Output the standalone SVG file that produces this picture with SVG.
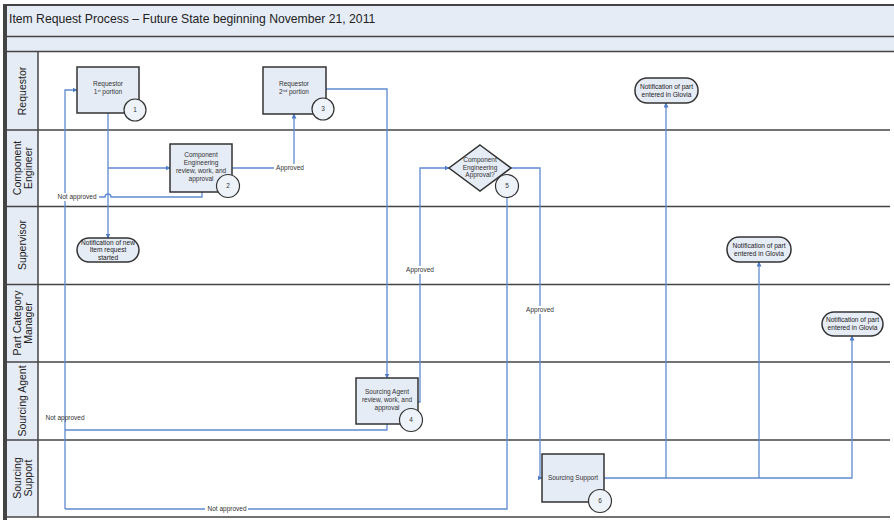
<svg xmlns="http://www.w3.org/2000/svg" width="894" height="524" viewBox="0 0 894 524">
<style>
.band{fill:#e6ecf6}
.sep{stroke:#444;stroke-width:1.5;fill:none}
.lane{font-family:"Liberation Sans",Arial,sans-serif;font-size:10.5px;fill:#222;text-anchor:middle}
.box{fill:#e6ecf6;stroke:#333;stroke-width:1.5}
.num{fill:#eef2f9;stroke:#333;stroke-width:1.2}
.t{font-family:"Liberation Sans",Arial,sans-serif;font-size:6.5px;fill:#333;text-anchor:middle}
.nt{font-family:"Liberation Sans",Arial,sans-serif;font-size:6.6px;fill:#222;text-anchor:middle}
.conn{stroke:#5f8ad0;stroke-width:1.3;fill:none}
.lbl{font-family:"Liberation Sans",Arial,sans-serif;font-size:6.5px;fill:#333;text-anchor:middle}
</style>
<defs>
<marker id="arr" viewBox="0 0 10 10" refX="9" refY="5" markerWidth="5" markerHeight="5" orient="auto" markerUnits="userSpaceOnUse">
<path d="M0,0 L10,5 L0,10 z" fill="#4f7cc4"/>
</marker>
</defs>
<rect x="0" y="0" width="894" height="524" fill="#ffffff"/>
<g id="frame">
<rect class="band" x="6" y="5" width="888" height="46"/>
<rect class="band" x="6" y="52" width="32" height="465"/>
<line x1="6" y1="5" x2="894" y2="5" stroke="#444" stroke-width="2"/>
<line x1="5" y1="4" x2="5" y2="520" stroke="#444" stroke-width="4"/>
<line class="sep" x1="7" y1="36.5" x2="894" y2="36.5"/>
<line class="sep" x1="7" y1="51.5" x2="894" y2="51.5"/>
<line class="sep" x1="38" y1="52" x2="38" y2="517"/>
<line class="sep" x1="7" y1="130" x2="890" y2="130"/>
<line class="sep" x1="7" y1="206.5" x2="890" y2="206.5"/>
<line class="sep" x1="7" y1="284.5" x2="890" y2="284.5"/>
<line class="sep" x1="7" y1="362" x2="890" y2="362"/>
<line class="sep" x1="7" y1="440" x2="890" y2="440"/>
<line class="sep" x1="7" y1="517" x2="890" y2="517"/>
<text x="9" y="23" font-family="Liberation Sans,Arial,sans-serif" font-size="12.2" fill="#222">Item Request Process – Future State beginning November 21, 2011</text>
<text class="lane" transform="translate(26,91) rotate(-90)">Requestor</text>
<text class="lane" transform="translate(21,168) rotate(-90)">Component</text>
<text class="lane" transform="translate(32,168) rotate(-90)">Engineer</text>
<text class="lane" transform="translate(26,245) rotate(-90)">Supervisor</text>
<text class="lane" transform="translate(21,323) rotate(-90)">Part Category</text>
<text class="lane" transform="translate(32,323) rotate(-90)">Manager</text>
<text class="lane" transform="translate(26,401) rotate(-90)">Sourcing Agent</text>
<text class="lane" transform="translate(21,478) rotate(-90)">Sourcing</text>
<text class="lane" transform="translate(32,478) rotate(-90)">Support</text>
</g>
<g id="connectors">
<path class="conn" d="M108,113 V238" marker-end="url(#arr)"/>
<path class="conn" d="M108,168 H170" marker-end="url(#arr)"/>
<path class="conn" d="M202,192 V197 H111 A3,3 0 0 0 105,197 H65"/>
<path class="conn" d="M65,509 V90 H77" marker-end="url(#arr)"/>
<path class="conn" d="M232,168 H294 V114" marker-end="url(#arr)"/>
<path class="conn" d="M326,89 H387 V378" marker-end="url(#arr)"/>
<path class="conn" d="M418,402 H420 V168 H449" marker-end="url(#arr)"/>
<path class="conn" d="M511,168 H540 V478 H542" marker-end="url(#arr)"/>
<path class="conn" d="M507,198 V509 H65"/>
<path class="conn" d="M387,424 V430 H65"/>
<path class="conn" d="M604,478 H852 V336" marker-end="url(#arr)"/>
<path class="conn" d="M666,478 V103" marker-end="url(#arr)"/>
<path class="conn" d="M759,478 V262" marker-end="url(#arr)"/>
<rect x="56" y="193" width="43" height="8" fill="#fff"/>
<text class="lbl" x="77" y="199.3">Not approved</text>
<rect x="274" y="164" width="32" height="8" fill="#fff"/>
<text class="lbl" x="290" y="170.3">Approved</text>
<rect x="404" y="266" width="32" height="8" fill="#fff"/>
<text class="lbl" x="420" y="272.3">Approved</text>
<rect x="524" y="306" width="32" height="8" fill="#fff"/>
<text class="lbl" x="540" y="312.3">Approved</text>
<rect x="205" y="505" width="43" height="8" fill="#fff"/>
<text class="lbl" x="227" y="511.3">Not approved</text>
<text class="lbl" x="65" y="420">Not approved</text>
</g>
<g id="n1">
<rect class="box" x="77" y="67" width="62" height="46"/>
<text class="t" x="108" y="86">Requestor</text>
<text class="t" x="108" y="94">1<tspan font-size="4" dy="-2">st</tspan><tspan dy="2"> portion</tspan></text>
<circle class="num" cx="135" cy="110" r="11"/>
<text class="t" x="135" y="112">1</text>
</g>
<g id="n2">
<rect class="box" x="170" y="144" width="62" height="48"/>
<text class="t" x="201" y="157">Component</text>
<text class="t" x="201" y="165">Engineering</text>
<text class="t" x="201" y="173">review, work, and</text>
<text class="t" x="201" y="181">approval</text>
<circle class="num" cx="228" cy="186" r="11.5"/>
<text class="t" x="228" y="188">2</text>
</g>
<g id="n3">
<rect class="box" x="263" y="67" width="63" height="47"/>
<text class="t" x="294" y="86">Requestor</text>
<text class="t" x="294" y="94">2<tspan font-size="4" dy="-2">nd</tspan><tspan dy="2"> portion</tspan></text>
<circle class="num" cx="323" cy="109" r="11"/>
<text class="t" x="323" y="111">3</text>
</g>
<g id="n5">
<polygon class="box" points="480,145 511,168 480,191 449,168"/>
<text class="t" x="480" y="162">Component</text>
<text class="t" x="480" y="169.5">Engineering</text>
<text class="t" x="480" y="177">Approval?</text>
<circle class="num" cx="507" cy="186" r="11.5"/>
<text class="t" x="507" y="188">5</text>
</g>
<g id="n4">
<rect class="box" x="356" y="378" width="62" height="46"/>
<text class="t" x="387" y="394">Sourcing Agent</text>
<text class="t" x="387" y="402">review, work, and</text>
<text class="t" x="387" y="410">approval</text>
<circle class="num" cx="411" cy="420" r="11.5"/>
<text class="t" x="411" y="422">4</text>
</g>
<g id="n6">
<rect class="box" x="542" y="454" width="62" height="48"/>
<text class="t" x="573" y="480">Sourcing Support</text>
<circle class="num" cx="600" cy="501" r="11.5"/>
<text class="t" x="600" y="503">6</text>
</g>
<g id="notif-supervisor-new">
<rect class="box" x="77" y="238" width="62" height="24" rx="12"/>
<text class="nt" x="108" y="244.5">Notification of new</text>
<text class="nt" x="108" y="252">Item request</text>
<text class="nt" x="108" y="259.5">started</text>
</g>
<g id="notif-requestor">
<rect class="box" x="635" y="78" width="63" height="25" rx="12"/>
<text class="nt" x="666.5" y="88.5">Notification of part</text>
<text class="nt" x="666.5" y="96.5">entered in Glovia</text>
</g>
<g id="notif-supervisor">
<rect class="box" x="727" y="237" width="64" height="25" rx="12"/>
<text class="nt" x="759" y="247.5">Notification of part</text>
<text class="nt" x="759" y="255.5">entered in Glovia</text>
</g>
<g id="notif-pcm">
<rect class="box" x="822" y="312" width="61" height="24" rx="12"/>
<text class="nt" x="852.5" y="322">Notification of part</text>
<text class="nt" x="852.5" y="330">entered in Glovia</text>
</g>
</svg>
